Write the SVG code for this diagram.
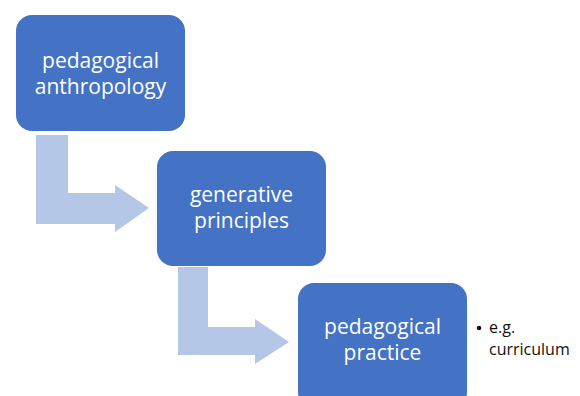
<svg xmlns="http://www.w3.org/2000/svg" width="580" height="396" viewBox="0 0 580 396">
<style>
.box{fill:#4472C4;}
.arr{fill:#B4C7E7;}
.lbl{font-family:"Open Sans","Liberation Sans",sans-serif;font-size:21px;fill:#FFFFFF;text-anchor:middle;}
.note{font-family:"Open Sans","Liberation Sans",sans-serif;font-size:16px;fill:#111111;}
</style>
<rect width="580" height="396" fill="#FFFFFF"/>
<g id="connectors">
<path class="arr" d="M36,135 H68 V193 H115 V185 L149,208 L115,232 V224 H36 Z"/>
<path class="arr" d="M178,267 H208 V327 H255 V319 L289,342 L255,364 V355 H178 Z"/>
</g>
<g id="node-anthropology">
<rect class="box" x="16" y="15" width="169" height="116" rx="16"/>
<text class="lbl" x="100.5" y="68">pedagogical</text>
<text class="lbl" x="100.5" y="94">anthropology</text>
</g>
<g id="node-principles">
<rect class="box" x="157" y="151" width="169" height="115" rx="16"/>
<text class="lbl" x="241.5" y="202">generative</text>
<text class="lbl" x="241.5" y="228">principles</text>
</g>
<g id="node-practice">
<rect class="box" x="298" y="283" width="169" height="125" rx="16"/>
<text class="lbl" x="382.5" y="334">pedagogical</text>
<text class="lbl" x="382.5" y="360">practice</text>
</g>
<g id="note">
<circle cx="479" cy="328" r="2.3" fill="#111111"/>
<text class="note" x="489" y="333">e.g.</text>
<text class="note" x="489" y="355">curriculum</text>
</g>
</svg>
